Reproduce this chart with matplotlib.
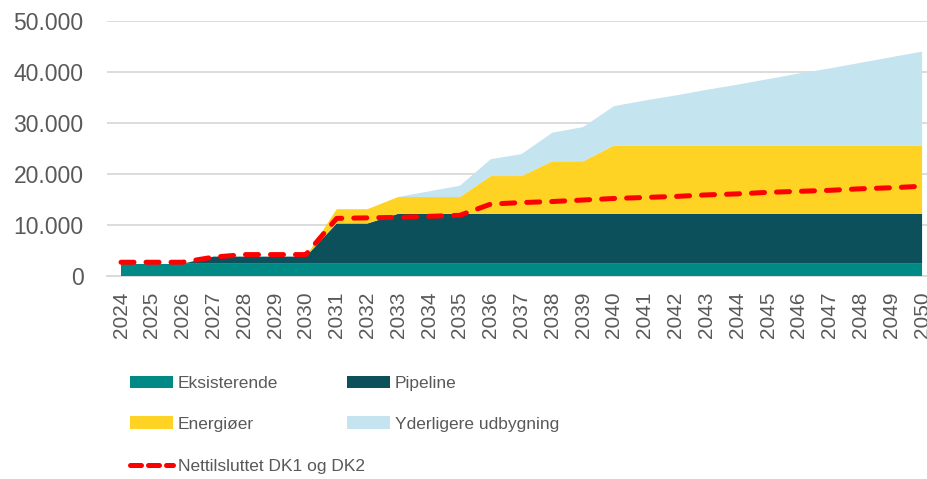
import matplotlib
matplotlib.use("Agg")
import matplotlib.pyplot as plt
from matplotlib.patches import Patch
from matplotlib.lines import Line2D
from matplotlib.ticker import FuncFormatter

years = list(range(2024, 2051))
eksisterende = [2400] * 27
pipeline = [0, 0, 0, 1400, 1400, 1400, 1400, 7900, 7900] + [9800] * 18
energioer = [0] * 7 + [2800, 2800, 3300, 3300, 3300, 7400, 7400, 10300, 10300] + [13400] * 11
yderligere = [0] * 10 + [1100, 2200, 3300, 4300, 5600, 6700, 7700, 8800, 9800,
                         10900, 11900, 13000, 14100, 15100, 16200, 17300, 18400]
nettilsluttet = [2700, 2700, 2700, 3700, 4200, 4200, 4200, 11300, 11400, 11500, 11700,
                 11900, 14100, 14400, 14600, 14900, 15200, 15400, 15600, 15900, 16100,
                 16400, 16600, 16800, 17100, 17300, 17600]

labels = ["Eksisterende", "Pipeline", "Energiøer", "Yderligere udbygning"]
colors = ["#008A86", "#0C505C", "#FFD324", "#C4E4F0"]
line_label = "Nettilsluttet DK1 og DK2"
line_color = "#FF0000"
yticks = [0, 10000, 20000, 30000, 40000, 50000]

plt.rcParams['font.family'] = ['Liberation Sans', 'DejaVu Sans']
text_color = "#595959"

W, H = 927, 479
fig = plt.figure(figsize=(W / 100, H / 100), dpi=100)
ax = fig.add_axes([107 / W, 203 / H, (927 - 107) / W, 255 / H])

ax.stackplot(years, eksisterende, pipeline, energioer, yderligere,
             colors=colors, linewidth=0, zorder=2)
ax.plot(years, nettilsluttet, color=line_color, linewidth=3.6,
        dashes=(2.6, 2.4), dash_capstyle='round', zorder=3)

ax.set_xlim(2023.545, 2050.16)
ax.set_ylim(0, 50000)
ax.set_yticks(yticks)
ax.yaxis.set_major_formatter(FuncFormatter(lambda v, p: f"{int(v):,}".replace(",", ".")))
ax.set_xticks(years)
ax.set_xticklabels([str(y) for y in years], rotation=90)
ax.tick_params(axis='y', length=0, pad=17, labelsize=16.5, labelcolor=text_color)
ax.tick_params(axis='x', length=0, pad=11, labelsize=15, labelcolor=text_color)
ax.grid(axis='y', color="#D9D9D9", linewidth=1.3, zorder=0)
ax.set_axisbelow(True)
for s in ["left", "right", "top"]:
    ax.spines[s].set_visible(False)
ax.spines["bottom"].set_color("#D9D9D9")
ax.spines["bottom"].set_linewidth(1.3)
ax.spines["bottom"].set_zorder(1)

common = dict(frameon=False, handlelength=2.47, handleheight=0.75, handletextpad=0.29,
              labelspacing=1.46, prop={'size': 12.5})

patches = [Patch(facecolor=c, edgecolor='none') for c in colors]
order = [0, 2, 1, 3]  # column-wise fill -> rows: (Eksisterende, Pipeline), (Energiøer, Yderligere)
leg1 = fig.legend([patches[i] for i in order], [labels[i] for i in order], ncol=2,
                  loc='upper left', bbox_to_anchor=(114 / W, 1 - 360 / H),
                  columnspacing=3.97, **common)
line_handle = Line2D([0], [0], color=line_color, linewidth=3.6, dashes=(2.2, 1.4),
                     dash_capstyle='round')
leg2 = fig.legend([line_handle], [line_label], loc='upper left',
                  bbox_to_anchor=(114 / W, 1 - 443 / H), **common)
for lg in (leg1, leg2):
    for t in lg.get_texts():
        t.set_color(text_color)

fig.savefig("out.png", dpi=100)
